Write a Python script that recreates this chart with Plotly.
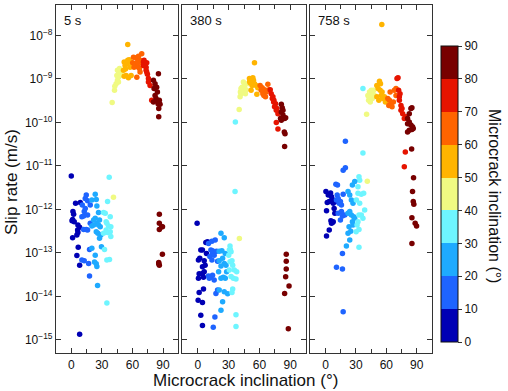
import plotly.graph_objects as go

# ---------------- data: (inclination in degrees, log10 slip rate in m/s) ----------------
panel_labels = ["5 s", "380 s", "758 s"]

p1_deg = [40.1, 42.4, 42.7, 44.0, 45.3, 46.3, 44.7, 46.6, 47.3, 45.3, 46.3, 47.9, 48.6,
          51.9, 53.8, 56.1, 58.7, 51.2, 52.8, 54.5, 55.4, 56.8, 58.4, 59.4, 55.4, 51.9, 57.7, 53.2, 60.3,
          61.0, 63.6, 65.9, 67.5, 62.6, 64.3, 65.9, 68.5, 64.9, 61.6, 66.9, 69.1, 64.3, 67.5,
          70.8, 72.4, 73.4, 74.0, 74.7, 73.4, 75.7, 71.4, 75.7, 77.3, 78.9, 70.8, 74.0,
          80.6, 82.2, 81.2, 83.8, 84.5, 82.2, 83.2, 85.5, 86.4, 85.1, 87.1, 85.8, 85.8, 83.8, 80.6,
          0.0, 37.2, 41.4,
          1.6, 2.3, 1.3, 2.9, 0.7, 4.2, 8.8, 6.5, 8.2, 6.2, 6.5, 1.3, 5.5, 6.8, 5.5, 8.2, 10.8, 10.4, 12.1, 12.7, 8.2,
          13.7, 14.7, 16.0, 18.6, 20.2, 13.7, 16.0, 12.1, 14.7, 16.0, 18.6, 20.2, 17.9, 20.2, 12.7, 17.0, 17.9, 10.4,
          23.5, 24.5, 25.1, 23.5, 25.1, 21.9, 26.7, 27.7, 24.5, 26.1, 28.4, 29.0, 27.7, 22.8, 25.1, 24.5, 25.8, 29.6, 23.5, 21.9, 26.7,
          31.6, 33.3, 35.6, 34.2, 34.9, 36.5, 38.2, 38.8, 31.6, 34.2, 38.2, 37.5, 34.9, 32.6, 38.8, 34.9, 35.6,
          86.4, 86.4, 88.7, 86.4, 89.5, 89.4, 85.8, 86.4, 85.8]
p1_logv = [-9.54, -9.26, -9.17, -9.11, -9.03, -8.96, -8.92, -8.84, -8.76, -8.80, -9.07, -8.92, -8.88,
           -8.94, -8.92, -8.97, -8.92, -8.80, -8.69, -8.65, -8.57, -8.56, -8.61, -8.69, -8.21, -8.61, -8.73, -8.77, -8.63,
           -8.50, -8.51, -8.48, -8.57, -8.65, -8.69, -8.73, -8.63, -8.61, -8.73, -8.76, -8.42, -8.96, -8.84,
           -8.61, -8.65, -8.73, -8.84, -8.89, -8.80, -8.99, -8.57, -9.07, -9.15, -9.49, -8.69, -8.63,
           -9.03, -9.11, -9.22, -9.19, -9.30, -9.38, -9.45, -8.88, -9.49, -9.57, -9.58, -9.68, -9.87, -9.49, -9.53,
           -11.23, -11.26, -11.72,
           -12.05, -12.11, -12.23, -12.28, -12.26, -11.86, -11.84, -12.36, -12.41, -12.47, -12.53, -12.65, -12.59, -12.87, -13.06, -13.28, -11.90, -12.17, -12.15, -12.05, -14.87,
           -11.75, -11.67, -11.80, -11.90, -11.78, -11.98, -12.13, -12.46, -12.46, -12.47, -12.32, -12.38, -12.92, -12.89, -13.18, -13.24, -13.53, -13.16,
           -11.65, -11.77, -11.92, -12.20, -12.32, -12.36, -12.36, -12.24, -12.51, -12.55, -12.40, -12.59, -12.66, -13.21, -13.31, -13.25, -13.75, -12.86, -13.05, -12.24, -12.07,
           -12.07, -12.09, -11.82, -12.28, -12.32, -12.38, -12.17, -12.40, -12.55, -12.47, -12.51, -13.15, -13.16, -12.92, -12.62, -14.15, -12.53,
           -12.11, -12.32, -12.40, -12.46, -12.40, -13.03, -13.22, -13.28, -13.25]

p2_deg = [55.2, 36.6, 36.3,
          40.3, 41.2, 42.1, 43.8, 43.1, 45.4, 44.4, 47.0, 41.5, 46.4, 48.7, 42.1,
          50.3, 51.9, 53.6, 50.9, 52.9, 55.2, 56.8, 51.9, 57.5, 54.2, 50.5, 58.4,
          60.7, 62.7, 65.0, 66.6, 63.3, 68.2, 65.9, 61.7, 69.2, 64.3,
          70.5, 71.5, 73.1, 74.1, 75.7, 74.7, 76.4, 78.0, 72.5, 77.0, 76.4, 78.0, 73.8,
          81.3, 82.2, 81.3, 82.9, 84.5, 80.5, 81.3, 84.2, 84.9, 84.5, 82.9, 85.5,
          -0.6, 2.0, 0.7, 3.0, 4.6, 1.4, 4.6, 6.3, 0.7, 5.6, 4.6, 7.2, 7.9, 9.5, 1.4, 5.6, 0.4, 4.6, 3.0, 4.6, 6.3, 8.5,
          10.5, 13.8, 17.0, 12.8, 14.4, 11.8, 16.0, 13.8, 10.5, 12.8, 14.4, 16.0, 11.2, 19.3, 17.7, 14.4, 16.7, 15.1, 19.3, 18.3,
          22.6, 25.8, 20.9, 23.5, 20.9, 24.2, 25.8, 22.6, 27.5, 24.9, 26.8, 22.6, 20.9, 25.8, 29.1, 24.2, 22.6, 28.1, 20.3, 26.8,
          31.4, 30.7, 32.4, 30.1, 33.3, 31.4, 34.0, 35.6, 37.9, 30.7, 32.4, 34.6, 37.2, 34.0, 33.3, 37.2, 37.2, 31.7,
          40.5,
          86.1, 86.1, 86.1, 85.5, 88.8, 84.5, 88.1]
p2_logv = [-8.63, -9.99, -11.59,
           -9.70, -9.41, -9.34, -9.26, -9.19, -9.15, -9.07, -9.25, -9.30, -9.34, -9.11, -9.22,
           -8.99, -9.03, -8.97, -9.09, -9.15, -9.11, -9.15, -9.26, -9.35, -9.03, -9.06, -9.20,
           -9.15, -9.20, -9.25, -9.30, -9.34, -9.12, -9.41, -9.26, -9.25, -9.38,
           -9.25, -9.34, -9.41, -9.49, -9.57, -9.64, -9.72, -9.80, -9.45, -9.68, -10.00, -10.15, -9.53,
           -9.58, -9.66, -9.76, -9.83, -9.91, -9.91, -9.95, -10.22, -10.26, -10.55, -9.72, -9.89,
           -12.32, -13.12, -13.16, -12.93, -12.93, -13.48, -13.47, -13.43, -13.58, -13.56, -13.32, -13.28, -12.76, -12.74, -13.91, -13.83, -14.09, -14.14, -14.43, -14.67, -13.18, -13.01,
           -12.78, -12.73, -12.70, -12.93, -13.01, -13.08, -13.05, -13.16, -13.53, -13.56, -13.51, -13.62, -13.58, -13.85, -13.93, -12.95, -14.47, -14.71, -13.19, -12.96,
           -12.55, -12.65, -12.96, -12.95, -13.18, -13.12, -13.24, -13.30, -13.28, -13.56, -13.58, -13.58, -13.85, -13.89, -13.94, -14.12, -14.32, -13.43, -13.43, -13.01,
           -12.84, -12.93, -12.97, -13.05, -13.18, -13.20, -13.28, -13.39, -13.43, -13.39, -13.54, -13.58, -13.60, -13.83, -13.91, -14.42, -14.69, -12.92,
           -12.67,
           -13.03, -13.19, -13.37, -13.55, -13.76, -13.93, -14.74]

p3_deg = [55.5, 36.9, 40.5, 19.6, 36.9, 78.7, 84.9, 77.7, 86.8,
          17.4, 19.6, 33.0, 33.7, 41.2, 28.8, 26.5, 10.2, 11.8, 32.0,
          41.8, 43.4, 45.1, 45.1, 46.7, 42.5, 44.1, 46.1, 48.3, 47.4, 42.8,
          50.6, 53.2, 51.9, 53.9, 54.9, 56.5, 52.6, 55.8, 58.1, 50.6, 59.1, 54.2,
          61.4, 63.0, 63.7, 64.6, 62.4, 65.6, 67.9, 69.5, 66.9, 69.5,
          70.5, 71.5, 72.1, 73.5, 72.8, 74.4, 74.4, 76.1, 77.7, 75.4, 72.8, 79.3,
          84.2, 85.2, 82.6, 80.9, 82.6, 84.2, 85.8, 85.2, 82.6, 80.9, 86.5, 80.9,
          0.4, 2.7, 5.0, 5.9, 3.7, 1.7, 7.6, 1.0, 5.3, 6.9, 5.9, 7.6, 3.7, 1.0, 9.2, 6.9, 9.8, 8.5,
          10.8, 13.4, 14.7, 12.5, 15.7, 14.7, 16.7, 11.5, 17.4, 10.8, 16.7, 17.4, 19.0, 12.5, 15.7, 16.7,
          22.2, 23.9, 25.5, 27.1, 22.2, 23.9, 25.5, 23.2, 24.9, 22.2, 23.9, 20.6, 26.5, 27.8, 28.8, 27.1,
          32.0, 35.3, 37.6, 30.4, 33.7, 33.0, 35.3, 36.9, 38.6, 32.0, 31.1, 33.0, 30.2, 33.0,
          85.8, 86.5, 87.1, 85.2, 88.4, 89.8, 85.2]
p3_logv = [-7.75, -9.22, -9.81, -10.43, -10.70, -10.68, -10.61, -11.02, -11.27,
           -11.10, -11.04, -11.25, -11.33, -11.35, -11.36, -11.44, -11.42, -11.44, -11.48,
           -9.38, -9.30, -9.26, -9.41, -9.34, -9.49, -9.53, -9.45, -9.38, -9.26, -9.41,
           -9.15, -9.05, -9.22, -9.26, -9.38, -9.45, -9.49, -9.30, -9.41, -9.41, -9.53, -9.11,
           -9.45, -9.49, -9.30, -9.57, -9.61, -9.64, -9.26, -9.22, -9.53, -9.38,
           -8.99, -8.97, -9.26, -9.34, -9.49, -9.61, -9.72, -9.80, -9.91, -9.68, -9.41, -9.87,
           -9.68, -9.66, -9.80, -9.91, -9.99, -10.06, -10.10, -10.16, -10.18, -10.22, -10.14, -10.03,
           -11.59, -11.67, -11.62, -11.71, -11.82, -11.84, -11.86, -12.03, -12.26, -12.30, -12.32, -12.28, -12.47, -12.61, -12.09, -11.77, -11.82, -11.98,
           -11.78, -11.86, -11.82, -12.09, -12.05, -12.24, -12.15, -11.67, -11.65, -13.33, -13.37, -14.35, -12.13, -11.75, -11.90, -13.01,
           -11.59, -11.67, -11.78, -11.86, -12.09, -12.05, -12.13, -12.40, -12.50, -12.55, -12.70, -12.84, -12.28, -12.17, -12.20, -12.36,
           -11.63, -11.65, -11.63, -11.78, -11.86, -12.13, -12.13, -12.20, -12.01, -12.28, -12.36, -12.46, -12.51, -12.87,
           -11.59, -11.82, -11.88, -12.19, -12.32, -12.38, -12.78]

x_ticks = [0, 30, 60, 90]
y_exponents = [-15, -14, -13, -12, -11, -10, -9, -8]
cbar_ticks = [0, 10, 20, 30, 40, 50, 60, 70, 80, 90]
bin_colors = ["#0000B4", "#1E64FF", "#1EAAFF", "#6EF5FF", "#F0FA82",
              "#FFB400", "#FF6400", "#E61400", "#780000"]

# ---------------- figure ----------------
W, H = 508, 391
ML, MR, MT, MB = 56, 76, 5, 38
PW = W - ML - MR
PH = H - MT - MB

def px2x(px):
    return (px - ML) / PW

def px2y(py):
    return (H - MB - py) / PH

domains = [[px2x(56), px2x(178.3)], [px2x(182.3), px2x(305.7)], [px2x(310.3), 1.0]]

cscale = []
n = len(bin_colors)
for i, c in enumerate(bin_colors):
    cscale.append([i / n, c])
    cscale.append([(i + 1) / n, c])

fig = go.Figure()
data = [(p1_deg, p1_logv), (p2_deg, p2_logv), (p3_deg, p3_logv)]
font_family = "Liberation Sans, Arial, sans-serif"
axis_col = "#333333"

for k, (dg, lv) in enumerate(data):
    xa = "x" if k == 0 else f"x{k+1}"
    ya = "y" if k == 0 else f"y{k+1}"
    fig.add_trace(go.Scatter(
        x=dg, y=[10 ** v for v in lv], mode="markers", xaxis=xa, yaxis=ya,
        marker=dict(size=5.5, color=dg, coloraxis="coloraxis", line=dict(width=0)),
        showlegend=False, hoverinfo="x+y"))

layout = dict(
    width=W, height=H,
    margin=dict(l=ML, r=MR, t=MT, b=MB, autoexpand=False),
    paper_bgcolor="white", plot_bgcolor="white",
    font=dict(family=font_family, size=12, color="#111111"),
    coloraxis=dict(
        cmin=0, cmax=90, colorscale=cscale,
        colorbar=dict(
            x=px2x(441), xanchor="left", xref="paper",
            y=px2y(194), yanchor="middle",
            xpad=0, ypad=0,
            thickness=17, len=296, lenmode="pixels",
            tickvals=cbar_ticks, ticks="outside", ticklen=4, tickcolor=axis_col,
            outlinewidth=1, outlinecolor="#111111",
            tickfont=dict(size=12, family=font_family),
            title=dict(text=""),
        ),
    ),
)

for k in range(3):
    xk = "xaxis" if k == 0 else f"xaxis{k+1}"
    yk = "yaxis" if k == 0 else f"yaxis{k+1}"
    layout[xk] = dict(
        domain=domains[k], range=[-15, 105], tickvals=x_ticks,
        ticks="inside", ticklen=5, tickcolor=axis_col,
        minor=dict(dtick=15, tick0=15, ticks="inside", ticklen=4, tickcolor=axis_col),
        showline=True, linecolor=axis_col, linewidth=1.2, mirror="ticks",
        showgrid=False, zeroline=False, tickfont=dict(size=12),
        anchor="y" if k == 0 else f"y{k+1}",
    )
    layout[yk] = dict(
        domain=[0, 1], type="log", range=[-15.3, -7.3],
        tickvals=[10 ** e for e in y_exponents],
        ticktext=[f"10<sup>\u2212{abs(e)}</sup>" for e in y_exponents],
        showticklabels=(k == 0),
        ticks="inside", ticklen=5, tickcolor=axis_col,
        showline=True, linecolor=axis_col, linewidth=1.2, mirror="ticks",
        showgrid=False, zeroline=False, tickfont=dict(size=12),
        anchor="x" if k == 0 else f"x{k+1}",
    )

fig.update_layout(**layout)

for k, lab in enumerate(panel_labels):
    xr = "x domain" if k == 0 else f"x{k+1} domain"
    yr = "y domain" if k == 0 else f"y{k+1} domain"
    fig.add_annotation(text=lab, xref=xr, yref=yr, x=0, y=1, xanchor="left", yanchor="top",
                       xshift=6, yshift=-6, showarrow=False, font=dict(size=13))

fig.add_annotation(text="Microcrack inclination (\u00b0)", xref="paper", yref="paper",
                   x=px2x(245.5), y=px2y(380), xanchor="center", yanchor="middle",
                   showarrow=False, font=dict(size=17))
fig.add_annotation(text="Slip rate (m/s)", xref="paper", yref="paper",
                   x=px2x(11), y=px2y(182), xanchor="center", yanchor="middle",
                   textangle=-90, showarrow=False, font=dict(size=17))
fig.add_annotation(text="Microcrack inclination (\u00b0)", xref="paper", yref="paper",
                   x=px2x(495), y=px2y(196), xanchor="center", yanchor="middle",
                   textangle=90, showarrow=False, font=dict(size=16))

fig.write_html("out.html", config={"displayModeBar": False},
               post_script="document.body.style.margin='0';document.body.style.overflow='hidden';")
